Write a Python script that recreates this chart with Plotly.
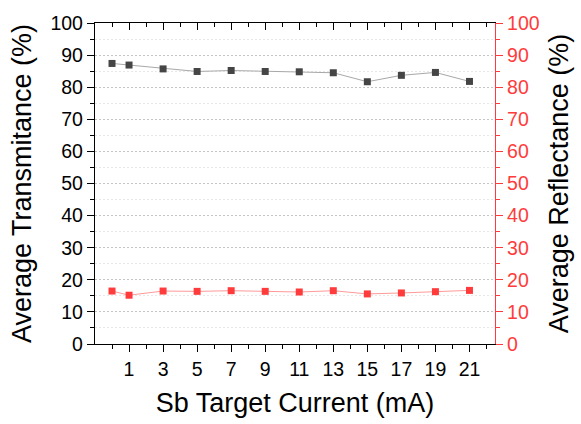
import plotly.graph_objects as go

current = [0, 1, 3, 5, 7, 9, 11, 13, 15, 17, 19, 21]
transmittance = [87.4, 86.9, 85.7, 84.9, 85.2, 84.9, 84.8, 84.5, 81.7, 83.7, 84.6, 81.8]
reflectance = [16.5, 15.2, 16.5, 16.4, 16.6, 16.4, 16.2, 16.6, 15.6, 15.9, 16.3, 16.7]
x_ticks = [1, 3, 5, 7, 9, 11, 13, 15, 17, 19, 21]
y_ticks = list(range(0, 101, 10))

RED = "#ff3b3b"
FONT = "Liberation Sans, Arial, sans-serif"

fig = go.Figure()
fig.add_trace(go.Scatter(
    x=current, y=transmittance, mode="lines+markers",
    line=dict(color="#a8a8a8", width=1),
    marker=dict(symbol="square", size=7, color="#454545"),
    name="Transmittance", yaxis="y"))
fig.add_trace(go.Scatter(
    x=current, y=reflectance, mode="lines+markers",
    line=dict(color="#ff9a9a", width=1),
    marker=dict(symbol="square", size=7, color=RED),
    name="Reflectance", yaxis="y2"))
# invisible trace to activate top mirror axis
fig.add_trace(go.Scatter(x=[current[0]], y=[transmittance[0]], xaxis="x2", yaxis="y",
                         mode="markers", marker=dict(opacity=0), showlegend=False,
                         hoverinfo="skip"))

fig.update_layout(
    width=581, height=424,
    margin=dict(l=95, r=82, t=20, b=78),
    paper_bgcolor="white", plot_bgcolor="white",
    showlegend=False,
    font=dict(family=FONT, color="black"),
    xaxis=dict(
        range=[-1, 22.5], tickvals=x_ticks, ticktext=[str(v) for v in x_ticks],
        ticks="outside", ticklen=7, tickwidth=1, tickcolor="black",
        minor=dict(tickvals=list(range(0, 23, 2)), ticks="outside", ticklen=4, tickcolor="black"),
        showline=True, linecolor="black", linewidth=1.3,
        showgrid=False, zeroline=False,
        tickfont=dict(size=19.5, family=FONT),
        title=dict(text="Sb Target Current (mA)", font=dict(size=27, family=FONT), standoff=14),
    ),
    xaxis2=dict(
        overlaying="x", side="top", matches="x", range=[-1, 22.5],
        tickvals=x_ticks, showticklabels=False,
        ticks="inside", ticklen=7, tickcolor="black",
        minor=dict(tickvals=list(range(0, 23, 2)), ticks="inside", ticklen=4, tickcolor="black"),
        showline=True, linecolor="black", linewidth=1.3,
        showgrid=False, zeroline=False,
    ),
    yaxis=dict(
        range=[0, 100], tickvals=y_ticks,
        ticks="outside", ticklen=7, tickcolor="black",
        minor=dict(dtick=5, tick0=0, ticks="outside", ticklen=4, tickcolor="black",
                   showgrid=True, gridcolor="#e8e8e8", griddash="2px,2px", gridwidth=1),
        showline=True, linecolor="black", linewidth=1.3,
        showgrid=True, gridcolor="#c4c4c4", griddash="2px,2px", gridwidth=1,
        zeroline=False,
        tickfont=dict(size=19.5, family=FONT),
        title=dict(text="Average Transmitance (%)", font=dict(size=27, family=FONT), standoff=10),
    ),
    yaxis2=dict(
        overlaying="y", side="right", range=[0, 100], tickvals=y_ticks,
        ticks="outside", ticklen=7, tickcolor=RED,
        minor=dict(dtick=5, tick0=0, ticks="outside", ticklen=4, tickcolor=RED),
        showline=True, linecolor=RED, linewidth=1.3,
        showgrid=False, zeroline=False,
        tickfont=dict(size=19.5, family=FONT, color=RED),
        title=dict(text="Average Reflectance (%)", font=dict(size=27, family=FONT, color="black"), standoff=10),
    ),
)

fig.write_html("out.html")
